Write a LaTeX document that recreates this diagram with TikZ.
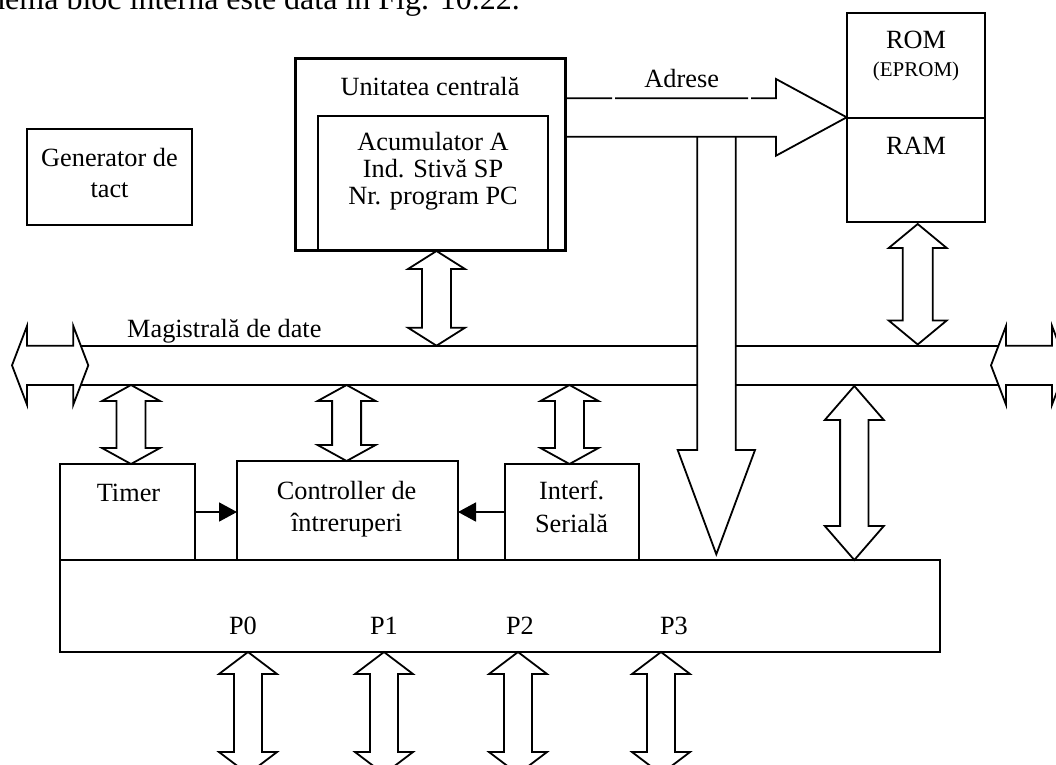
\documentclass[tikz,border=0pt]{standalone}
\usepackage{fontspec}
\setmainfont{Liberation Serif}
\usetikzlibrary{arrows.meta}

\tikzset{
  box/.style={draw, line width=1.8pt, inner sep=0pt, outer sep=0pt},
  cpubox/.style={draw, line width=3pt, inner sep=0pt, outer sep=0pt},
  lbl/.style={anchor=base, inner sep=0pt, font=\fontsize{26.3}{31}\selectfont},
  smalllbl/.style={anchor=base, inner sep=0pt, font=\fontsize{21}{25}\selectfont},
  wire/.style={line width=1.8pt, line join=miter},
  blockarrow/.style={draw, fill=white, line width=1.8pt, line join=miter},
  sig/.style={line width=1.8pt, -{Triangle[length=18pt,width=19pt]}},
}

% rectangle node from its corners: [style]{name}{x1}{y1}{x2}{y2}
\newcommand\rectnode[6][box]{%
  \node[#1, minimum width={(#5-#3)*1pt}, minimum height={(#6-#4)*1pt}]
    (#2) at ({(#3+#5)/2},{(#4+#6)/2}) {};}

% vertical two-headed block arrow: x, top tip, bottom tip, head half width, shaft half width, head length
\newcommand\vdouble[6]{%
  \draw[blockarrow] (#1,#2) -- ({#1+#4},{#2+#6}) -- ({#1+#5},{#2+#6}) -- ({#1+#5},{#3-#6})
    -- ({#1+#4},{#3-#6}) -- (#1,#3) -- ({#1-#4},{#3-#6}) -- ({#1-#5},{#3-#6})
    -- ({#1-#5},{#2+#6}) -- ({#1-#4},{#2+#6}) -- cycle;}

\begin{document}
\begin{tikzpicture}[x=1pt, y=-1pt]
\useasboundingbox (0,0) rectangle (1056,764);
\clip (0,0) rectangle (1056,764);

% running text above the figure
\node[anchor=base west, inner sep=0pt, font=\fontsize{32}{38}\selectfont] (intro) at (-43,9)
  {Schema bloc internă este dată în Fig. 10.22.};

% clock generator
\rectnode{gen}{27}{129}{192}{225}
\node[lbl] (genA) at (109.5,166) {Generator de};
\node[lbl] (genB) at (109.5,197) {tact};

% central unit
\rectnode{regs}{317.7}{116}{548.3}{250.7}
\rectnode[cpubox]{cpu}{295}{58}{565}{250.7}
\node[lbl] (cpuT) at (430,95) {Unitatea centrală};
\node[lbl] (regA) at (433,150.5) {Acumulator A};
\node[lbl] (regB) at (433,177) {Ind. Stivă SP};
\node[lbl] (regC) at (433,204) {Nr. program PC};

% memories
\rectnode{rom}{847.3}{13.3}{985}{118.3}
\rectnode{ram}{847.3}{118.3}{985}{221.7}
\node[lbl] (romT) at (916,48) {ROM};
\node[smalllbl] (eprom) at (916,76) {(EPROM)};
\node[lbl] (ramT) at (916,154) {RAM};

% address bus
\draw[wire] (565,98.3) -- (612,98.3) (615,98.3) -- (748,98.3)
  (751,98.3) -- (776,98.3) -- (776,79) -- (846.7,117.3) -- (776,155.7) -- (776,136.7) -- (565,136.7);
\node[lbl] (adr) at (681.7,87) {Adrese};
\draw[wire] (697.3,136.7) -- (697.3,450) -- (677.7,450) -- (716.3,554.3)
  -- (755,450) -- (735.7,450) -- (735.7,136.7);

% data bus
\draw[wire] (80.8,345.7) -- (697.3,345.7) (735.7,345.7) -- (998.7,345.7)
  (80.8,385) -- (697.3,385) (735.7,385) -- (998.7,385);
\draw[blockarrow] (12,365.35) -- (27,326) -- (27,345.7) -- (73.3,345.7) -- (73.3,326)
  -- (88.3,365.35) -- (73.3,404.7) -- (73.3,385) -- (27,385) -- (27,404.7) -- cycle;
\draw[blockarrow] (991,365.35) -- (1006,326) -- (1006,345.7) -- (1052,345.7) -- (1052,326)
  -- (1067,365.35) -- (1052,404.7) -- (1052,385) -- (1006,385) -- (1006,404.7) -- cycle;
\node[anchor=base west, inner sep=0pt, font=\fontsize{26.3}{31}\selectfont] (busT) at (127,337)
  {Magistrală de date};

% peripherals
\rectnode{ports}{60}{560}{940}{652}
\rectnode{timer}{60}{464}{195}{560}
\rectnode{ctrl}{237}{461}{458}{560}
\rectnode{intf}{505}{464}{639}{560}
\node[lbl] (timerT) at (128.5,501) {Timer};
\node[lbl] (ctrlA) at (346.6,499) {Controller de};
\node[lbl] (ctrlB) at (346.6,531) {întreruperi};
\node[lbl] (intfA) at (571.6,499) {Interf.};
\node[lbl] (intfB) at (571.6,532) {Serială};
\draw[sig] (timer.east) -- (timer.east -| ctrl.west);
\draw[sig] (intf.west) -- (intf.west -| ctrl.east);

% port labels
\node[lbl] (p0) at (243,634) {P0};
\node[lbl] (p1) at (384,634) {P1};
\node[lbl] (p2) at (520,634) {P2};
\node[lbl] (p3) at (674,634) {P3};

% bidirectional links
\vdouble{436.5}{251}{345.7}{28.5}{14.5}{18}
\vdouble{917.7}{224}{344.5}{29}{15}{24}
\vdouble{131}{385}{464}{29}{14.5}{16}
\vdouble{346.6}{385}{461}{29}{14.5}{16}
\vdouble{569.5}{385}{464}{29}{14.5}{16}
\vdouble{854.3}{386}{560}{29.5}{14.2}{34}
\vdouble{248}{652}{774}{29}{14}{22}
\vdouble{384}{652}{774}{29}{14}{22}
\vdouble{518}{652}{774}{29}{14}{22}
\vdouble{661}{652}{774}{29}{14}{22}
\end{tikzpicture}
\end{document}
